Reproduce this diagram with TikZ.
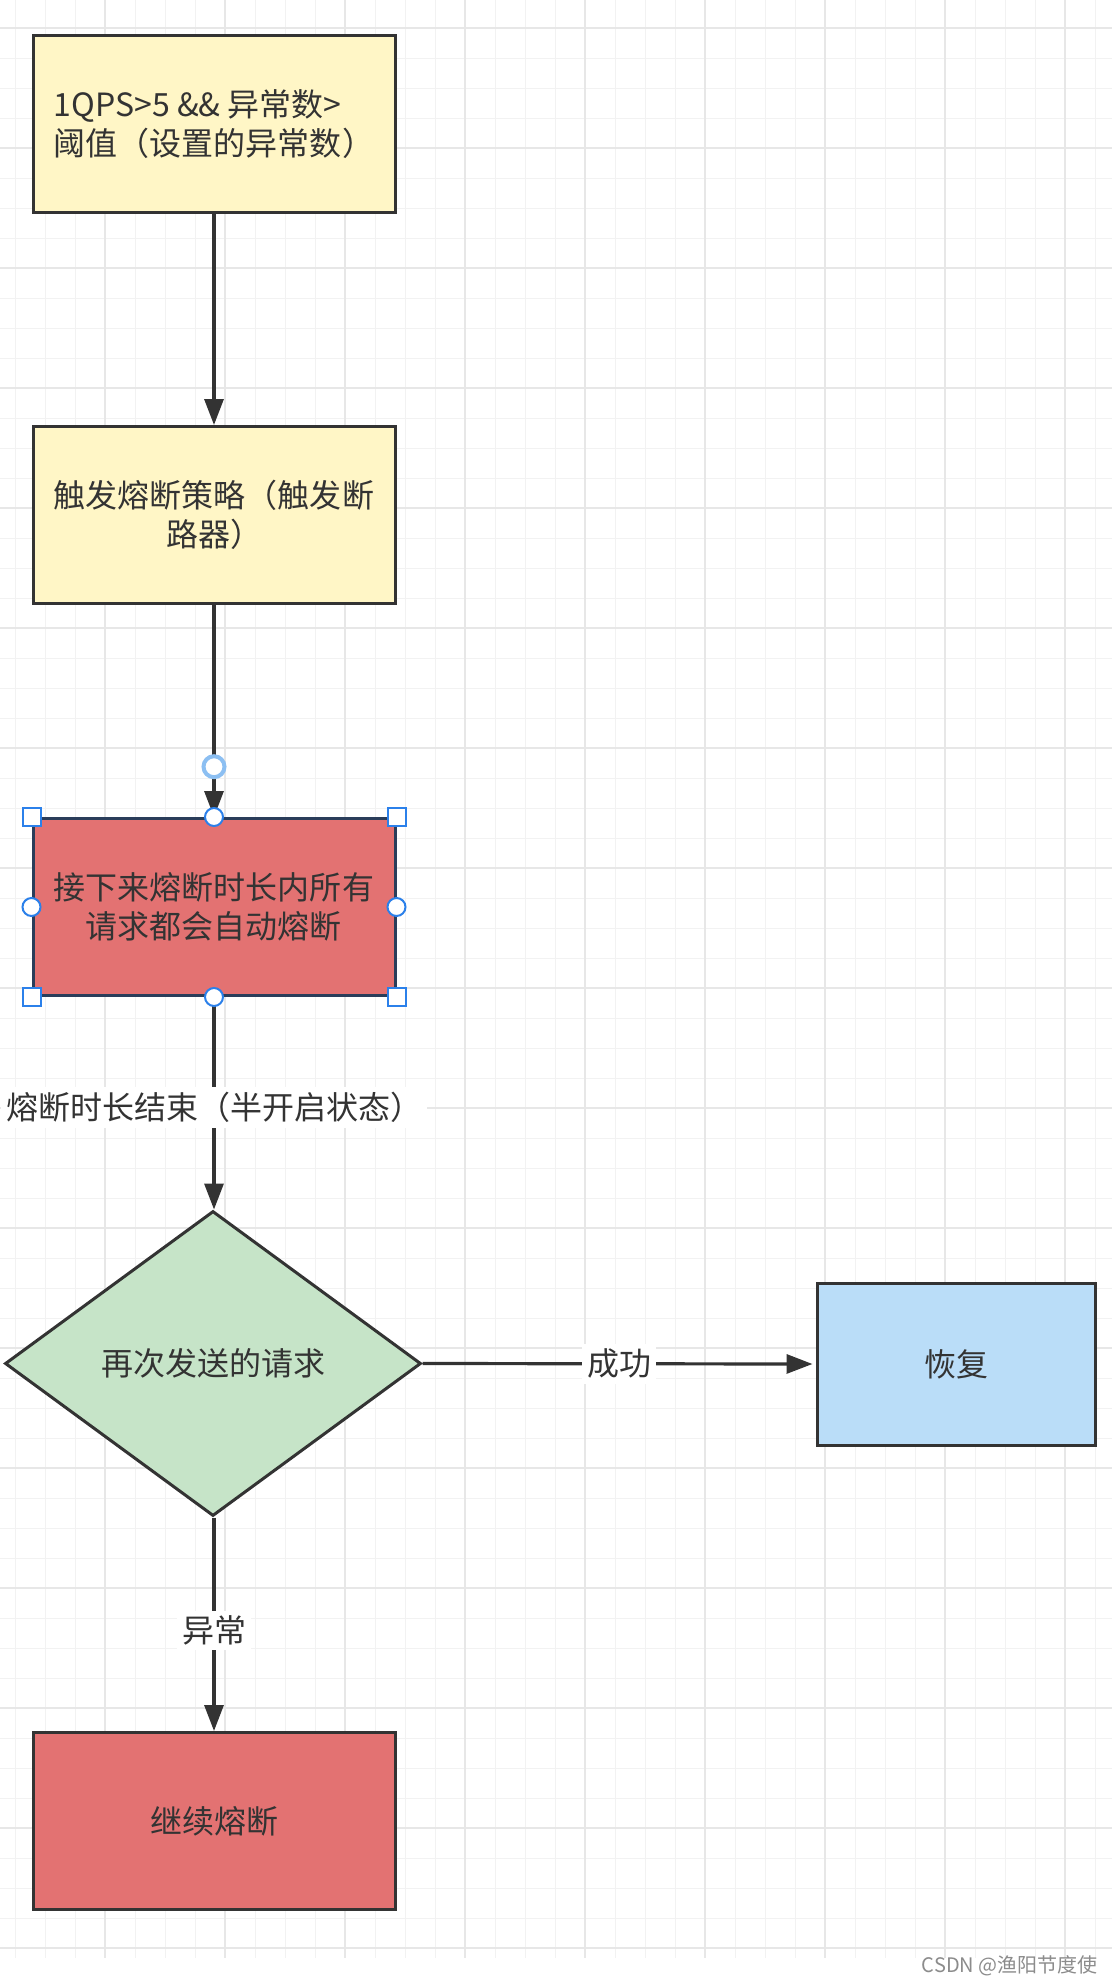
\documentclass[tikz,border=0pt]{standalone}
\usepackage{fontspec}
\setmainfont{Noto Sans CJK SC}
\usetikzlibrary{shapes.geometric,arrows.meta}

\definecolor{lineGray}{HTML}{333333}
\definecolor{textGray}{HTML}{333333}
\definecolor{boxYellow}{HTML}{FFF6C6}
\definecolor{boxRed}{HTML}{E37272}
\definecolor{boxBlue}{HTML}{BADDF8}
\definecolor{boxGreen}{HTML}{C6E4C8}
\definecolor{selBlue}{HTML}{2B80EA}
\definecolor{selNavy}{HTML}{2A3D5A}
\definecolor{hoverBlue}{HTML}{8CBFF2}
\definecolor{gridMinorGray}{HTML}{F2F2F2}
\definecolor{gridMajorGray}{HTML}{E7E7E7}

\newcommand{\boxfont}{\fontsize{16pt}{19.5pt}\selectfont}

\begin{document}
\begin{tikzpicture}[x=0.5pt, y=-0.5pt,
		stepBox/.style={draw=lineGray, line width=1.5pt, minimum width=181pt, minimum height=88.5pt, inner sep=0pt, align=center, text=textGray, font=\boxfont},
		yellowBox/.style={stepBox, fill=boxYellow},
		redBox/.style={stepBox, fill=boxRed},
		blueBox/.style={stepBox, fill=boxBlue, minimum width=139pt, minimum height=81pt},
		greenDiamond/.style={diamond, draw=lineGray, line width=1.5pt, fill=boxGreen, minimum width=208pt, minimum height=152.5pt, inner sep=0pt, text=textGray, font=\boxfont},
		flowArrow/.style={draw=lineGray, line width=1.6pt, -{Triangle[length=13pt, width=9.5pt]}},
		edgeLabel/.style={fill=white, text=textGray, font=\boxfont, inner sep=2.5pt},
		selCorner/.style={draw=selBlue, fill=white, line width=1pt, minimum size=9pt, inner sep=0pt},
		selDot/.style={circle, draw=selBlue, fill=white, line width=1pt, minimum size=9pt, inner sep=0pt},
		hoverDot/.style={circle, draw=hoverBlue, fill=white, line width=2pt, minimum size=10.5pt, inner sep=0pt}]
	
	% page and background grid
	\fill[white] (0,0) rectangle (1112,1985);
	\useasboundingbox (0,0) rectangle (1112,1985);
	\foreach \k in {0,...,36}
	\draw[gridMinorGray, line width=0.5pt] (15+30*\k,0) -- (15+30*\k,1958);
	\foreach \k in {0,...,64}
	\draw[gridMinorGray, line width=0.5pt] (0,28.3+30*\k) -- (1112,28.3+30*\k);
	\foreach \k in {0,...,8}
	\draw[gridMajorGray, line width=1pt] (105+120*\k,0) -- (105+120*\k,1958);
	\foreach \k in {0,...,16}
	\draw[gridMajorGray, line width=1pt] (0,28.3+120*\k) -- (1112,28.3+120*\k);
	
	% flow steps
	\node[yellowBox, align=left] (rule) at (214,124) {1QPS>5 \&\& 异常数>\\阈值（设置的异常数）};
	\node[yellowBox] (trip) at (214,515) {触发熔断策略（触发断\\路器）};
	\node[redBox, draw=selNavy] (open) at (214,907) {接下来熔断时长内所有\\请求都会自动熔断};
	\node[greenDiamond] (retry) at (213,1363.5) {再次发送的请求};
	\node[blueBox] (recover) at (956,1364) {恢复};
	\node[redBox] (again) at (214,1821) {继续熔断};
	
	% connectors
	\draw[flowArrow] (rule) -- (trip);
	\draw[flowArrow] (trip) -- (open);
	\draw[flowArrow] (open) -- node[edgeLabel, pos=0.52] (halfLabel) {熔断时长结束（半开启状态）} (open |- retry.north);
	\draw[flowArrow, shorten >=1.5pt] (retry.east) -- node[edgeLabel] (okLabel) {成功} (recover.west);
	\draw[flowArrow] (again |- retry.south) -- node[edgeLabel, pos=0.53] (errLabel) {异常} (again);
	
	% selection handles on the open step
	\node[hoverDot] (hover) at (214,766.7) {};
	\foreach \a [count=\i] in {north west,north east,south west,south east}
	\node[selCorner] (corner\i) at (open.\a) {};
	\foreach \a [count=\i] in {north,west,east,south}
	\node[selDot] (side\i) at (open.\a) {};
	
	% watermark
	\node[anchor=east, text=black!45, font=\fontsize{10pt}{12pt}\selectfont, inner sep=0pt] (mark) at (1098,1966) {CSDN @渔阳节度使};
\end{tikzpicture}
\end{document}
